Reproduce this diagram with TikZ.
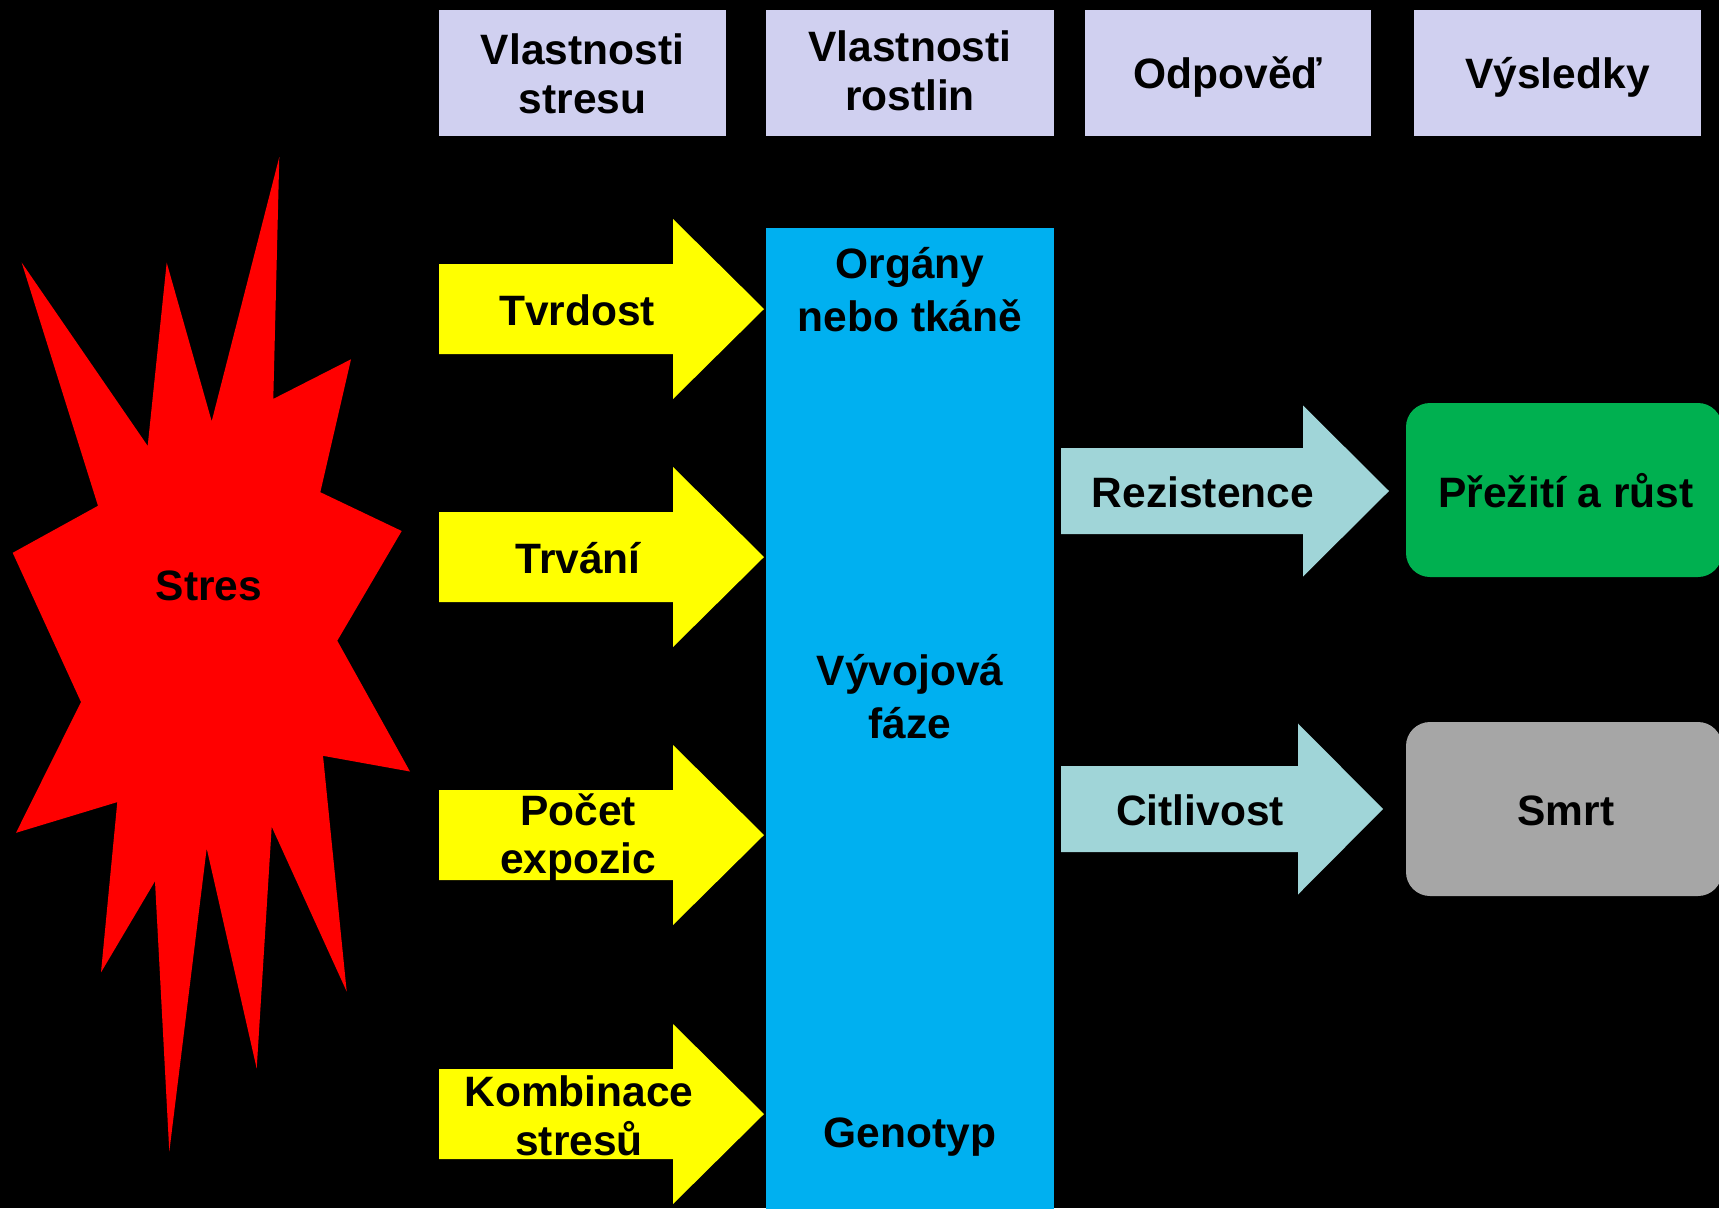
\documentclass[tikz,border=0pt]{standalone}
\usepackage{fontspec}
\setmainfont{Liberation Sans}

\definecolor{stressred}{RGB}{255,0,0}
\definecolor{propyellow}{RGB}{255,255,0}
\definecolor{plantblue}{RGB}{0,176,240}
\definecolor{headlav}{RGB}{208,208,240}
\definecolor{respteal}{RGB}{160,213,216}
\definecolor{okgreen}{RGB}{0,176,80}
\definecolor{deadgray}{RGB}{166,166,166}

% block arrow: style, left x, head start x, tip x, centre y, half body height, half head height
\newcommand\flowarrow[7]{%
  \fill[#1] (#2,#5-#6) -- (#3,#5-#6) -- (#3,#5-#7) -- (#4,#5)
    -- (#3,#5+#7) -- (#3,#5+#6) -- (#2,#5+#6) -- cycle;}
% two centred lines, the box baseline sits on the last line
\newcommand\twolines[2]{\begin{tabular}[b]{@{}c@{}}#1\\#2\end{tabular}}

\begin{document}
\begin{tikzpicture}[x=1pt,y=-1pt,
  lbl/.style={inner sep=0pt, text=black, anchor=base,
              font=\fontsize{42.5}{48}\selectfont\bfseries},
  hdrlbl/.style={lbl, font=\fontsize{42.5}{49}\selectfont\bfseries},
  barlbl/.style={lbl, font=\fontsize{42.5}{53}\selectfont\bfseries},
  hdrfill/.style={fill=headlav},
  yarrow/.style={fill=propyellow},
  tarrow/.style={fill=respteal}]

\fill[black] (0,0) rectangle (1719,1208);
\useasboundingbox (0,0) rectangle (1719,1208);

% column headers
\fill[hdrfill] (439,10) rectangle (726,136);
\fill[hdrfill] (766,10) rectangle (1054,136);
\fill[hdrfill] (1085,10) rectangle (1371,136);
\fill[hdrfill] (1414,10) rectangle (1701,136);
\node[hdrlbl] (hdrstress) at (582.5,113) {\twolines{Vlastnosti}{stresu}};
\node[hdrlbl] (hdrplant) at (910,110) {\twolines{Vlastnosti}{rostlin}};
\node[lbl] (hdrresp) at (1228,88) {Odpověď};
\node[lbl] (hdrout) at (1557.5,88) {Výsledky};

% the stress burst
\fill[stressred] (279.3,157.0) -- (273.3,398.9) -- (351,359.3) -- (320.3,492.2)
  -- (401.7,531.0) -- (337.3,640.7) -- (410,771.5) -- (323,755.8)
  -- (346.7,991.5) -- (271.7,826.7) -- (256.7,1068.5) -- (206.7,848.4)
  -- (169.3,1151.6) -- (155,881.2) -- (101,972.4) -- (117.3,802.1)
  -- (16,832.8) -- (81,702.0) -- (12.7,552.8) -- (98,505.8)
  -- (21.7,262.6) -- (147.7,445.9) -- (166.7,262.6) -- (211.7,421.3) -- cycle;
\node[lbl] (stres) at (209,600) {Stres};

% stress properties
\flowarrow{yarrow}{439}{673}{764}{309}{45}{90}
\flowarrow{yarrow}{439}{673}{764}{557}{45}{90}
\flowarrow{yarrow}{439}{673}{764}{835}{45}{90}
\flowarrow{yarrow}{439}{673}{764}{1114}{45}{90}
\node[lbl] (tvrdost) at (577,325) {Tvrdost};
\node[lbl] (trvani) at (578,573) {Trvání};
\node[lbl] (pocet) at (578,873) {\twolines{Počet}{expozic}};
\node[lbl] (kombinace) at (579,1155) {\twolines{Kombinace}{stresů}};

% plant properties
\fill[plantblue] (766,228) rectangle (1054,1210);
\node[barlbl] (organy) at (910,331) {\twolines{Orgány}{nebo tkáně}};
\node[barlbl] (faze) at (910,738) {\twolines{Vývojová}{fáze}};
\node[barlbl] (genotyp) at (910,1147) {Genotyp};

% response
\flowarrow{tarrow}{1061}{1303}{1389}{491}{43}{85.5}
\flowarrow{tarrow}{1061}{1298}{1383}{809}{43}{85.5}
\node[lbl] (rezistence) at (1203,507) {Rezistence};
\node[lbl] (citlivost) at (1200,825) {Citlivost};

% outcomes
\fill[okgreen, rounded corners=24pt] (1406,403) rectangle (1722,577);
\fill[deadgray, rounded corners=24pt] (1406,722) rectangle (1722,896);
\node[lbl] (preziti) at (1566,507) {Přežití a růst};
\node[lbl] (smrt) at (1566,825) {Smrt};
\end{tikzpicture}
\end{document}
